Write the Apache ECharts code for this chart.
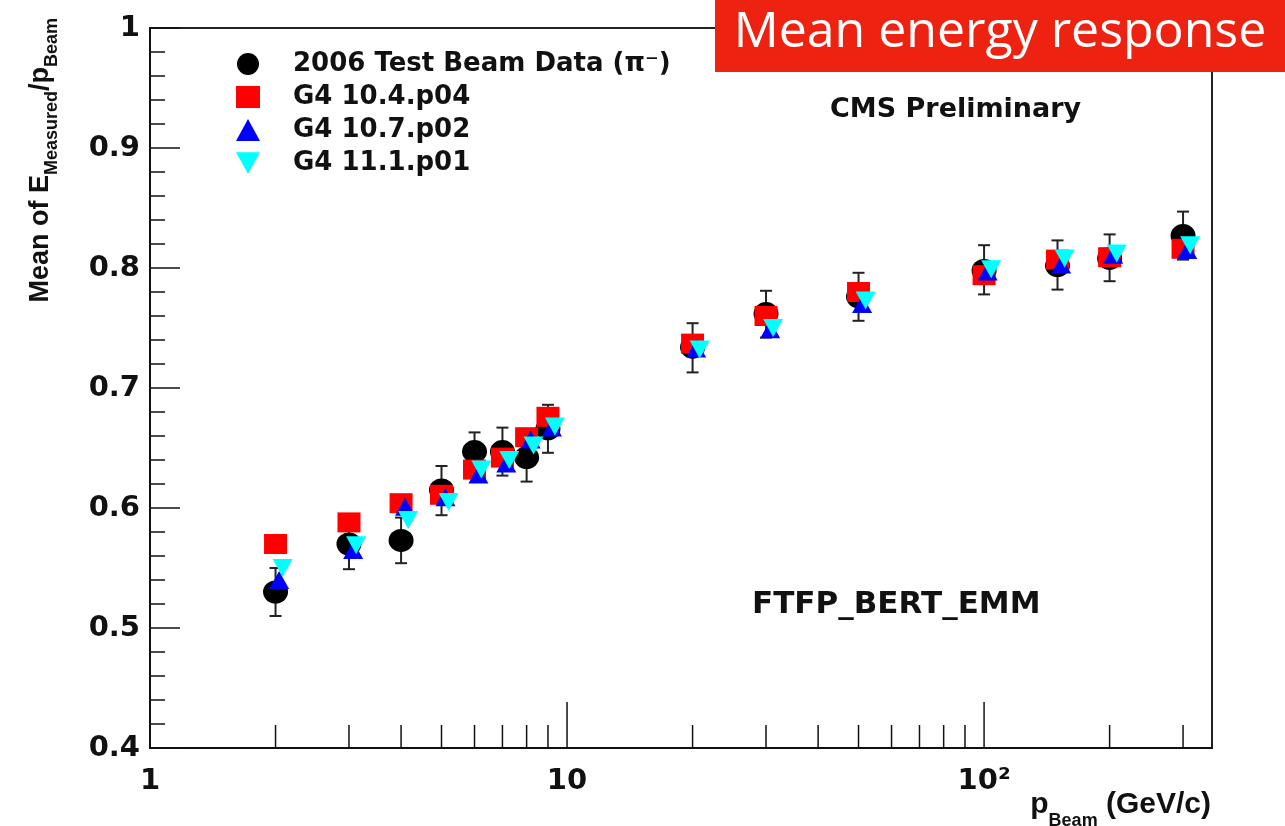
<!DOCTYPE html>
<html>
<head>
<meta charset="utf-8">
<script src="https://cdn.jsdelivr.net/npm/echarts@6/dist/echarts.min.js"></script>
<style>
html,body{margin:0;padding:0;background:#fff;}
#chart{width:1285px;height:826px;}
</style>
</head>
<body>
<div id="chart"></div>
<script>
// ---- Data ----
const pBeam      = [2, 3, 4, 5, 6, 7, 8, 9, 20, 30, 50, 100, 150, 200, 300];
const pBeamBlue  = [2.04, 3.07, 4.09, 5.11, 6.13, 7.15, 8.18, 9.2, 20.4, 30.7, 51, 102, 153, 204, 307];
const pBeamCyan  = [2.08, 3.12, 4.16, 5.2, 6.23, 7.27, 8.31, 9.35, 20.8, 31.2, 52, 104, 156, 208, 312];

const testBeam   = [0.530, 0.570, 0.573, 0.615, 0.647, 0.647, 0.642, 0.666, 0.734, 0.762, 0.776, 0.798, 0.802, 0.808, 0.827];
const testBeamLo = [0.510, 0.549, 0.554, 0.594, 0.630, 0.627, 0.622, 0.646, 0.713, 0.742, 0.756, 0.778, 0.782, 0.789, 0.807];
const testBeamHi = [0.550, 0.592, 0.592, 0.635, 0.663, 0.667, 0.662, 0.686, 0.754, 0.781, 0.796, 0.819, 0.823, 0.828, 0.847];
const g4_104     = [0.570, 0.588, 0.604, 0.611, 0.632, 0.642, 0.659, 0.676, 0.737, 0.760, 0.780, 0.794, 0.807, 0.809, 0.816];
const g4_107     = [0.540, 0.565, 0.601, 0.609, 0.628, 0.637, 0.657, 0.667, 0.733, 0.749, 0.770, 0.797, 0.803, 0.811, 0.815];
const g4_111     = [0.550, 0.569, 0.590, 0.605, 0.632, 0.640, 0.652, 0.668, 0.732, 0.750, 0.773, 0.799, 0.808, 0.812, 0.819];

const seriesNames = ['2006 Test Beam Data (\u03c0\u207b)', 'G4 10.4.p04', 'G4 10.7.p02', 'G4 11.1.p01'];
const xMajorTicks = [10, 100];
const xMinorTicks = [2, 3, 4, 5, 6, 7, 8, 9, 20, 30, 40, 50, 60, 70, 80, 90, 200, 300];
const xMin = 1, xMax = 352;
const yMin = 0.4, yMax = 1.0;

// ---- Chart ----
const FONT = 'DejaVu Sans';
const chart = echarts.init(document.getElementById('chart'), null, {renderer: 'canvas'});

function pairs(xs, ys) { return xs.map((x, i) => [x, ys[i]]); }

function tickSeries(values, len) {
  return {
    type: 'custom',
    silent: true,
    clip: false,
    z: 1,
    data: values.map(v => [v, yMin]),
    encode: {x: 0, y: 1},
    renderItem: function (params, api) {
      const p = api.coord([api.value(0), api.value(1)]);
      return {type: 'line', shape: {x1: p[0], y1: p[1], x2: p[0], y2: p[1] - len},
              style: {stroke: '#111', lineWidth: 1.5}};
    }
  };
}

const option = {
  backgroundColor: '#ffffff',
  animation: false,
  grid: {left: 150, right: 73, top: 28, bottom: 78, show: true, borderColor: '#222', borderWidth: 2, backgroundColor: 'transparent'},
  xAxis: {
    type: 'log', logBase: 10, min: xMin, max: xMax,
    axisLine: {show: true, lineStyle: {color: '#111', width: 2}},
    axisTick: {show: false},
    splitLine: {show: false},
    axisLabel: {
      margin: 19, showMaxLabel: false,
      fontFamily: FONT, fontWeight: 'bold', fontSize: 29, color: '#111',
      formatter: function (v) { return v === 100 ? '10\u00b2' : String(v); }
    }
  },
  yAxis: {
    type: 'value', min: yMin, max: yMax, interval: 0.1,
    axisLine: {show: true, lineStyle: {color: '#111', width: 2}},
    axisTick: {show: true, inside: true, length: 30, lineStyle: {color: '#111', width: 1.5}},
    minorTick: {show: true, splitNumber: 5, length: 15, lineStyle: {color: '#111', width: 1.5}},
    splitLine: {show: false},
    axisLabel: {
      margin: 10,
      fontFamily: FONT, fontWeight: 'bold', fontSize: 29, color: '#111',
      formatter: function (v) { return Math.abs(v - 1) < 1e-9 ? '1' : v.toFixed(1); }
    }
  },
  legend: {
    orient: 'vertical', left: 236, top: 51, padding: 0, itemGap: 7, itemWidth: 24, itemHeight: 22,
    selectedMode: false,
    textStyle: {fontFamily: FONT, fontWeight: 'bold', fontSize: 26, lineHeight: 22, color: '#111', padding: [0, 0, 0, 28]},
    data: [
      {name: seriesNames[0], icon: 'circle'},
      {name: seriesNames[1], icon: 'rect'},
      {name: seriesNames[2], icon: 'triangle'},
      {name: seriesNames[3], icon: 'path://M0,0 L10,0 L5,9 Z'}
    ]
  },
  series: [
    tickSeries(xMajorTicks, 46),
    tickSeries(xMinorTicks, 23),
    {
      name: seriesNames[0], type: 'scatter', symbol: 'circle', symbolSize: [25, 23],
      itemStyle: {color: '#000000', opacity: 1}, z: 2,
      data: pairs(pBeam, testBeam)
    },
    {
      type: 'custom', silent: true, z: 2,
      data: pBeam.map((x, i) => [x, testBeamLo[i], testBeamHi[i]]),
      encode: {x: 0, y: [1, 2]},
      renderItem: function (params, api) {
        const x = api.value(0);
        const a = api.coord([x, api.value(1)]);
        const b = api.coord([x, api.value(2)]);
        const w = 6;
        const st = {stroke: '#222', lineWidth: 2};
        return {type: 'group', children: [
          {type: 'line', shape: {x1: a[0], y1: a[1], x2: b[0], y2: b[1]}, style: st},
          {type: 'line', shape: {x1: a[0] - w, y1: a[1], x2: a[0] + w, y2: a[1]}, style: st},
          {type: 'line', shape: {x1: b[0] - w, y1: b[1], x2: b[0] + w, y2: b[1]}, style: st}
        ]};
      }
    },
    {
      name: seriesNames[1], type: 'scatter', symbol: 'rect', symbolSize: [23, 20],
      itemStyle: {color: '#ff0000', opacity: 1}, z: 2,
      data: pairs(pBeam, g4_104)
    },
    {
      name: seriesNames[2], type: 'scatter', symbol: 'triangle', symbolSize: [20, 18],
      itemStyle: {color: '#0000ff', opacity: 1}, z: 2,
      data: pairs(pBeamBlue, g4_107)
    },
    {
      name: seriesNames[3], type: 'scatter', symbol: 'triangle', symbolRotate: 180, symbolSize: [20, 18],
      itemStyle: {color: '#00ffff', opacity: 1}, z: 2,
      data: pairs(pBeamCyan, g4_111)
    }
  ],
  graphic: [
    {type: 'text', left: 830, top: 96, z: 10,
     style: {text: 'CMS Preliminary', fontFamily: FONT, fontWeight: 'bold', fontSize: 27, fill: '#111'}},
    {type: 'text', left: 752, top: 589, z: 10,
     style: {text: 'FTFP_BERT_EMM', fontFamily: FONT, fontWeight: 'bold', fontSize: 31, fill: '#111'}},
    {type: 'text', x: 1211, y: 810, z: 10,
     style: {text: '{m|p}{s|Beam}{m| (GeV/c)}', align: 'right', verticalAlign: 'middle',
       rich: {
         m: {fontFamily: 'Liberation Sans', fontWeight: 'bold', fontSize: 30, fill: '#111', lineHeight: 40, verticalAlign: 'top'},
         s: {fontFamily: 'Liberation Sans', fontWeight: 'bold', fontSize: 18, fill: '#111', lineHeight: 40, verticalAlign: 'bottom'}
       }}},
    {type: 'text', x: 44, y: 18, rotation: Math.PI / 2, z: 10,
     style: {text: '{m|Mean of E}{s|Measured}{m|/p}{s|Beam}', align: 'right', verticalAlign: 'middle',
       rich: {
         m: {fontFamily: 'Liberation Sans', fontWeight: 'bold', fontSize: 27, fill: '#111', lineHeight: 34, verticalAlign: 'top'},
         s: {fontFamily: 'Liberation Sans', fontWeight: 'bold', fontSize: 18, fill: '#111', lineHeight: 34, verticalAlign: 'bottom'}
       }}},
    {type: 'group', z: 20, children: [
      {type: 'rect', shape: {x: 715, y: 0, width: 570, height: 72}, style: {fill: '#ee2211'}},
      {type: 'text', x: 1000, y: 33,
       style: {text: 'Mean energy response', align: 'center', verticalAlign: 'middle',
               fontFamily: 'Open Sans', fontSize: 50, fill: '#ffffff'}}
    ]}
  ]
};
chart.setOption(option);
</script>
</body>
</html>
